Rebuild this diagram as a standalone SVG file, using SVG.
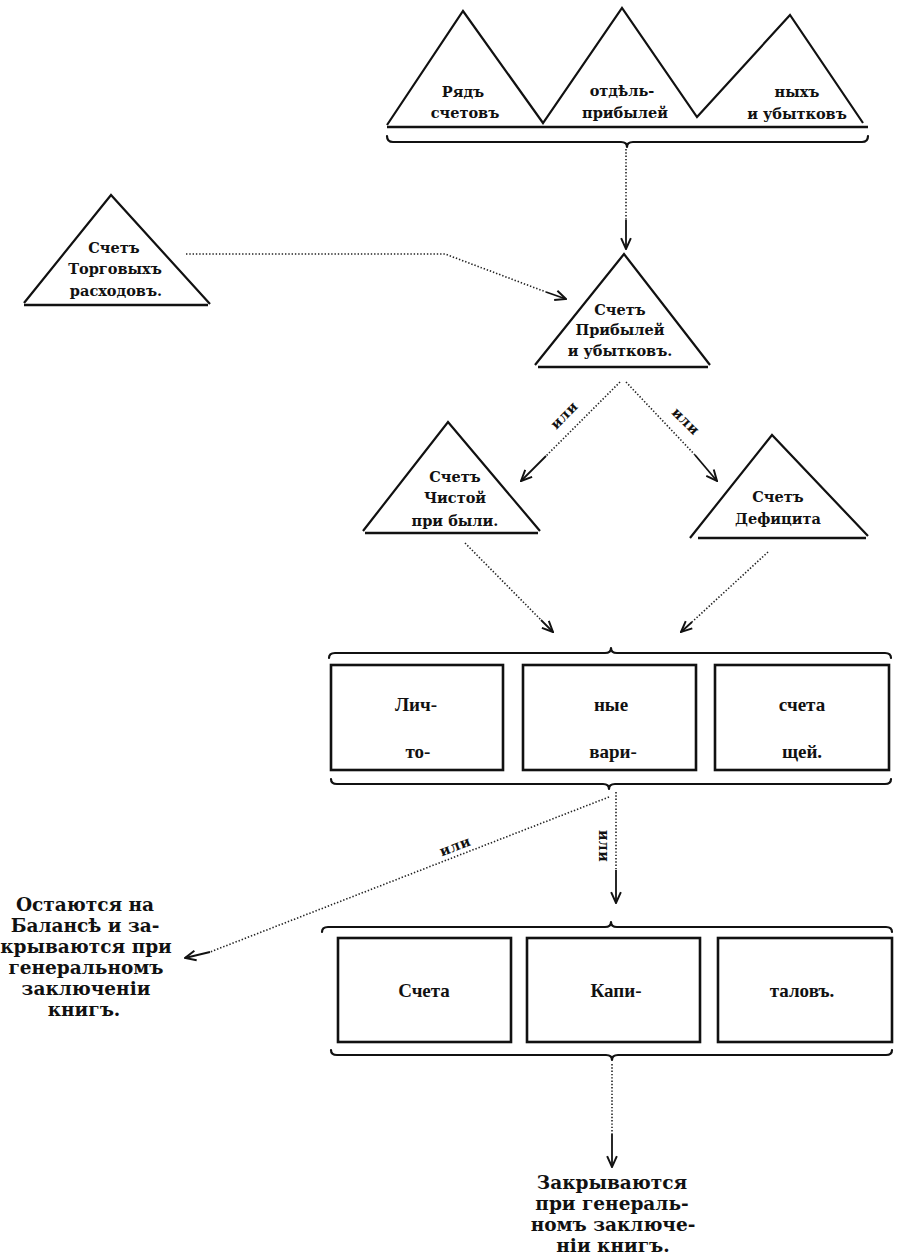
<svg xmlns="http://www.w3.org/2000/svg" width="901" height="1260" viewBox="0 0 901 1260">
<defs>
<style>
.tri{fill:none;stroke:#111;stroke-width:2.2;stroke-linejoin:miter}
.base{stroke:#111;stroke-width:2.4;fill:none}
.box{fill:none;stroke:#111;stroke-width:2.6}
.brace{fill:none;stroke:#111;stroke-width:2.2;stroke-linecap:round;stroke-linejoin:round}
.dot{fill:none;stroke:#222;stroke-width:1.6;stroke-dasharray:1.4 1.9}
.shaft{fill:none;stroke:#111;stroke-width:1.8;marker-end:url(#ah)}
.t{font-family:'DejaVu Serif','Liberation Serif',serif;font-weight:bold;font-size:14.5px;text-anchor:middle;fill:#111}
.b{font-family:'Liberation Serif',serif;font-weight:bold;font-size:19px;text-anchor:middle;fill:#111}
.n{font-family:'DejaVu Serif',serif;font-weight:bold;font-size:18.5px;text-anchor:middle;fill:#111}
.ili{font-family:'DejaVu Serif',serif;font-weight:bold;font-size:14px;text-anchor:middle;fill:#111;letter-spacing:0.5px}
</style>
<marker id="ah" viewBox="0 0 12 12" refX="11" refY="6" markerWidth="13" markerHeight="13" markerUnits="userSpaceOnUse" orient="auto">
<path d="M1,1.5 L11,6 L1,10.5" fill="none" stroke="#111" stroke-width="1.8"/>
</marker>
</defs>
<rect width="901" height="1260" fill="#fff"/>

<g id="connectors">
<path class="dot" d="M626,149 L626,220"/>
<path class="shaft" d="M626,220 L626,249"/>
<path class="dot" d="M186,254 L445,254 L546,292"/>
<path class="shaft" d="M546,292 L566,299"/>
<path class="dot" d="M620,382 L546,456"/>
<path class="shaft" d="M546,456 L521,481"/>
<path class="dot" d="M626,382 L695,455"/>
<path class="shaft" d="M695,455 L717,481"/>
<path class="dot" d="M465,543 L541,620"/>
<path class="shaft" d="M541,620 L553,632"/>
<path class="dot" d="M768,552 L692,622"/>
<path class="shaft" d="M692,622 L681,632"/>
<path class="dot" d="M616,792 L616,870"/>
<path class="shaft" d="M616,870 L616,903"/>
<path class="dot" d="M609,797 L210,952"/>
<path class="shaft" d="M210,952 L185,958"/>
<path class="dot" d="M612,1064 L612,1134"/>
<path class="shaft" d="M612,1134 L612,1167"/>
<text class="ili" transform="translate(564,415) rotate(-45)" y="5">или</text>
<text class="ili" transform="translate(686,421) rotate(45)" y="5">или</text>
<text class="ili" transform="translate(604,846) rotate(90)" y="5">или</text>
<text class="ili" transform="translate(455,846) rotate(-21.2)" y="5">или</text>
</g>

<g id="top-series">
<path class="tri" d="M387,125 L463,11 L543,123 L622,8 L697,117 L790,15 L863,123"/>
<line class="base" x1="387" y1="127" x2="868" y2="127"/>
<path class="brace" d="M387,136 Q387,142 393,142 L621,142 Q627,142 627,147 Q627,142 633,142 L862,142 Q868,142 868,136"/>
<text class="t" x="463" y="97">Рядъ</text>
<text class="t" x="465" y="118">счетовъ</text>
<text class="t" x="622" y="96">отдѣль-</text>
<text class="t" x="625" y="118">прибылей</text>
<text class="t" x="797" y="97">ныхъ</text>
<text class="t" x="797" y="119">и убытковъ</text>
</g>

<g id="trade-expenses">
<path class="tri" d="M24,303 L111,195 L210,304"/>
<line class="base" x1="24" y1="305" x2="208" y2="305"/>
<text class="t" x="114" y="253">Счетъ</text>
<text class="t" x="115" y="274">Торговыхъ</text>
<text class="t" x="116" y="296">расходовъ.</text>
</g>

<g id="profit-loss">
<path class="tri" d="M535,365 L624,254 L710,365"/>
<line class="base" x1="538" y1="367" x2="708" y2="367"/>
<text class="t" x="620" y="315">Счетъ</text>
<text class="t" x="620" y="335">Прибылей</text>
<text class="t" x="620" y="356">и убытковъ.</text>
</g>

<g id="net-profit">
<path class="tri" d="M363,531 L448,422 L540,531"/>
<line class="base" x1="365" y1="533" x2="538" y2="533"/>
<text class="t" x="455" y="482">Счетъ</text>
<text class="t" x="455" y="503">Чистой</text>
<text class="t" x="455" y="526">при были.</text>
</g>

<g id="deficit">
<path class="tri" d="M690,538 L772,435 L868,536"/>
<line class="base" x1="698" y1="538" x2="866" y2="538"/>
<text class="t" x="778" y="502">Счетъ</text>
<text class="t" x="778" y="524">Дефицита</text>
</g>

<g id="personal-accounts">
<path class="brace" d="M329,658 Q329,653 335,653 L605,653 Q611,653 611,648 Q611,653 617,653 L885,653 Q891,653 891,658"/>
<rect class="box" x="331" y="665" width="172" height="105"/>
<rect class="box" x="523" y="665" width="173" height="105"/>
<rect class="box" x="715" y="665" width="174" height="105"/>
<path class="brace" d="M331,779 Q331,784 337,784 L603,784 Q609,784 609,789 Q609,784 615,784 L885,784 Q891,784 891,779"/>
<text class="b" x="416" y="711">Лич-</text>
<text class="b" x="418" y="758">то-</text>
<text class="b" x="611" y="711">ные</text>
<text class="b" x="613" y="758">вари-</text>
<text class="b" x="802" y="711">счета</text>
<text class="b" x="802" y="758">щей.</text>
</g>

<g id="capital-accounts">
<path class="brace" d="M322,932 Q322,927 328,927 L605,927 Q611,927 611,922 Q611,927 617,927 L886,927 Q892,927 892,932"/>
<rect class="box" x="338" y="938" width="173" height="104"/>
<rect class="box" x="527" y="938" width="173" height="104"/>
<rect class="box" x="718" y="938" width="174" height="104"/>
<path class="brace" d="M331,1050 Q331,1055 337,1055 L606,1055 Q612,1055 612,1060 Q612,1055 618,1055 L886,1055 Q892,1055 892,1050"/>
<text class="b" x="424" y="997">Счета</text>
<text class="b" x="616" y="997">Капи-</text>
<text class="b" x="802" y="997">таловъ.</text>
</g>

<g id="remain-on-balance">
<text class="n" x="85" y="911">Остаются на</text>
<text class="n" x="85" y="932">Балансѣ и за-</text>
<text class="n" x="86" y="953">крываются при</text>
<text class="n" x="86" y="974">генеральномъ</text>
<text class="n" x="86" y="995">заключеніи</text>
<text class="n" x="84" y="1016">книгъ.</text>
</g>

<g id="closed-at-closing">
<text class="n" x="612" y="1189">Закрываются</text>
<text class="n" x="612" y="1210">при генераль-</text>
<text class="n" x="613" y="1231">номъ заключе-</text>
<text class="n" x="613" y="1252">ніи книгъ.</text>
</g>
</svg>
